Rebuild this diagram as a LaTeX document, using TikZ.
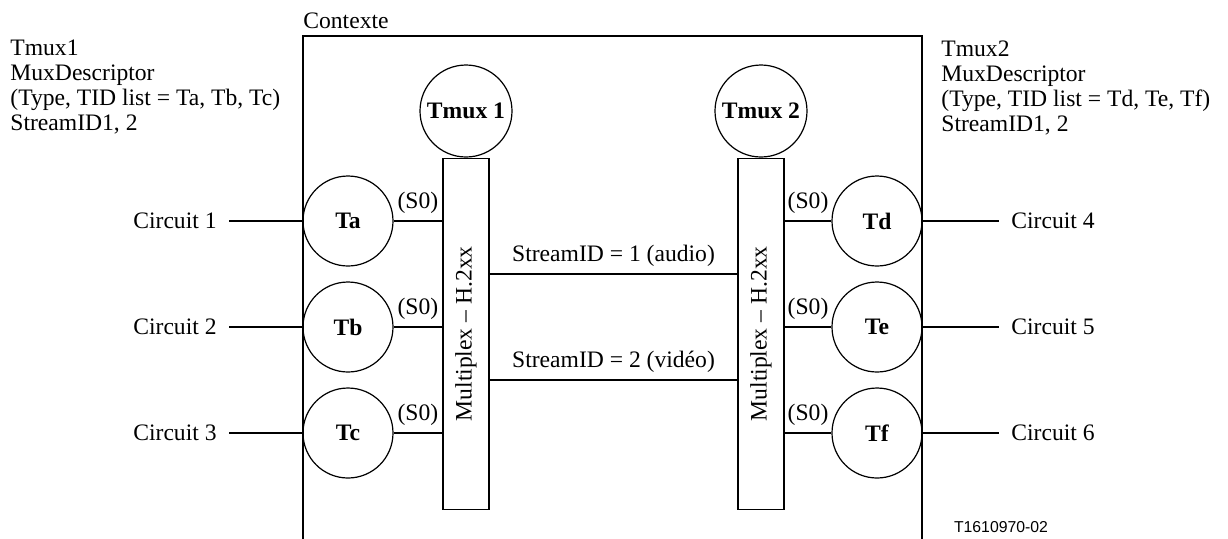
\documentclass[tikz,border=0pt]{standalone}
\usepackage{fontspec}
\setmainfont{Liberation Serif}
\newfontfamily\refsans{Liberation Sans}
\usetikzlibrary{positioning}
\newcommand\figfont{\fontsize{11.8pt}{12.5pt}\selectfont}

\begin{document}
\begin{tikzpicture}[x=0.5pt, y=-0.5pt, font=\figfont,
  term/.style={draw, circle, line width=0.6pt, minimum size=45pt, inner sep=0pt, font=\figfont\bfseries},
  tmux/.style={term, minimum size=46pt},
  muxbar/.style={draw, line width=0.7pt, minimum width=23pt, minimum height=175.5pt, inner sep=0pt},
  wire/.style={line width=1pt},
  circ/.style={inner sep=6pt}]
  \useasboundingbox (0,0) rectangle (1228,538);
  % contexte
  \draw [line width=0.7pt] (303,545) -- (303,36) -- (922,36) -- (922,545);
  \node[anchor=base west, inner sep=0pt] (ctx) at (303,28) {Contexte};
  \node[anchor=north west, inner sep=0pt, align=left] (desc1) at (10,40)
    {Tmux1\\MuxDescriptor\\(Type, TID list = Ta, Tb, Tc)\\StreamID1, 2};
  \node[anchor=north west, inner sep=0pt, align=left] (desc2) at (941,40)
    {Tmux2\\MuxDescriptor\\(Type, TID list = Td, Te, Tf)\\StreamID1, 2};
  % multiplex
  \node[tmux] (tmux1) at (466,111) {Tmux 1};
  \node[muxbar, below=0pt of tmux1] (mux1) {};
  \node[rotate=90] at (mux1) {Multiplex -- H.2xx};
  \node[tmux] (tmux2) at (761,111) {Tmux 2};
  \node[muxbar, below=0pt of tmux2] (mux2) {};
  \node[rotate=90] at (mux2) {Multiplex -- H.2xx};
  % terminaisons
  \node[term] (Ta) at (348,221) {Ta};
  \node[term] (Tb) at (348,327) {Tb};
  \node[term] (Tc) at (348,433) {Tc};
  \node[term] (Td) at (877,221) {Td};
  \node[term] (Te) at (877,327) {Te};
  \node[term] (Tf) at (877,433) {Tf};
  % circuits
  \node[circ, anchor=east] (c1) at (229,221) {Circuit 1};
  \node[circ, anchor=east] (c2) at (229,327) {Circuit 2};
  \node[circ, anchor=east] (c3) at (229,433) {Circuit 3};
  \node[circ, anchor=west] (c4) at (999,221) {Circuit 4};
  \node[circ, anchor=west] (c5) at (999,327) {Circuit 5};
  \node[circ, anchor=west] (c6) at (999,433) {Circuit 6};
  \draw [wire] (c1) -- (Ta);
  \draw [wire] (c2) -- (Tb);
  \draw [wire] (c3) -- (Tc);
  \draw [wire] (Td) -- (c4);
  \draw [wire] (Te) -- (c5);
  \draw [wire] (Tf) -- (c6);
  % (S0)
  \draw [wire] (Ta) -- node[above] {(S0)} (Ta -| mux1.west);
  \draw [wire] (Tb) -- node[above] {(S0)} (Tb -| mux1.west);
  \draw [wire] (Tc) -- node[above] {(S0)} (Tc -| mux1.west);
  \draw [wire] (mux2.east |- Td) -- node[above] {(S0)} (Td);
  \draw [wire] (mux2.east |- Te) -- node[above] {(S0)} (Te);
  \draw [wire] (mux2.east |- Tf) -- node[above] {(S0)} (Tf);
  % flux
  \draw [wire] (mux1.east |- 0,274) -- node[above] {StreamID = 1 (audio)} (mux2.west |- 0,274);
  \draw [wire] (mux1.east |- 0,380) -- node[above] {StreamID = 2 (vidéo)} (mux2.west |- 0,380);
  \node[font=\refsans\fontsize{7.9pt}{9pt}\selectfont] (ref) at (1001,527) {T1610970-02};
\end{tikzpicture}
\end{document}
